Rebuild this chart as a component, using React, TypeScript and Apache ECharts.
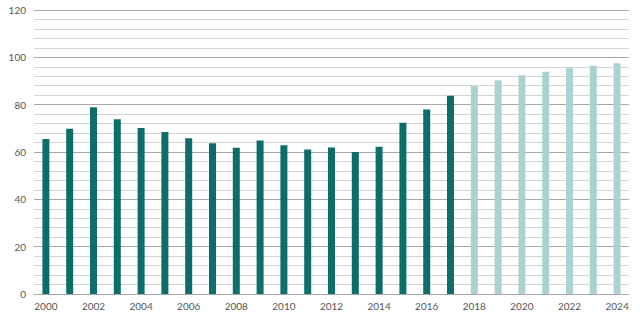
import React, { useEffect, useRef } from "react";
import * as echarts from "echarts";

const years = ["2000","2001","2002","2003","2004","2005","2006","2007","2008","2009","2010","2011","2012","2013","2014","2015","2016","2017","2018","2019","2020","2021","2022","2023","2024"];
const values = [65.5,69.8,78.9,73.8,70.1,68.4,65.8,63.7,61.8,64.9,62.9,61.1,61.9,60.0,62.2,72.4,78.0,83.8,87.9,90.3,92.4,93.9,95.4,96.4,97.5];
const forecastFrom = "2018";
const yTicks = [0, 20, 40, 60, 80, 100, 120];

export default function App() {
  const ref = useRef<HTMLDivElement>(null);
  useEffect(() => {
    if (!ref.current) return;
    const chart = echarts.init(ref.current, null, { renderer: "svg" });
    const fIdx = years.indexOf(forecastFrom);
    chart.setOption({
      animation: false,
      grid: { left: 34, right: 11, top: 10, bottom: 31, containLabel: false },
      xAxis: {
        type: "category",
        data: years,
        axisLine: { show: false },
        axisTick: { show: false },
        axisLabel: {
          interval: 1,
          color: "#555",
          fontSize: 10,
          fontFamily: "Lato",
          margin: 7,
        },
      },
      yAxis: {
        type: "value",
        min: 0,
        max: 120,
        interval: 4,
        axisLine: { show: false },
        axisTick: { show: false },
        axisLabel: {
          color: "#555",
          fontSize: 10,
          fontFamily: "Lato",
          margin: 8,
          formatter: (v: number) => (yTicks.includes(v) ? String(v) : ""),
        },
        splitLine: {
          show: true,
          lineStyle: { color: ["#a8a8a8", "#d4d4d4", "#d4d4d4", "#d4d4d4", "#d4d4d4"], width: 1 },
        },
      },
      series: [
        {
          type: "bar",
          barWidth: 7,
          data: values.map((v, i) => ({
            value: v,
            itemStyle: { color: i >= fIdx ? "#abd1d2" : "#0b6e6b" },
          })),
        },
      ],
    });
    return () => chart.dispose();
  }, []);
  return (
    <div
      ref={ref}
      style={{ position: "fixed", left: 0, top: 0, width: 640, height: 325, background: "#fff" }}
    />
  );
}
